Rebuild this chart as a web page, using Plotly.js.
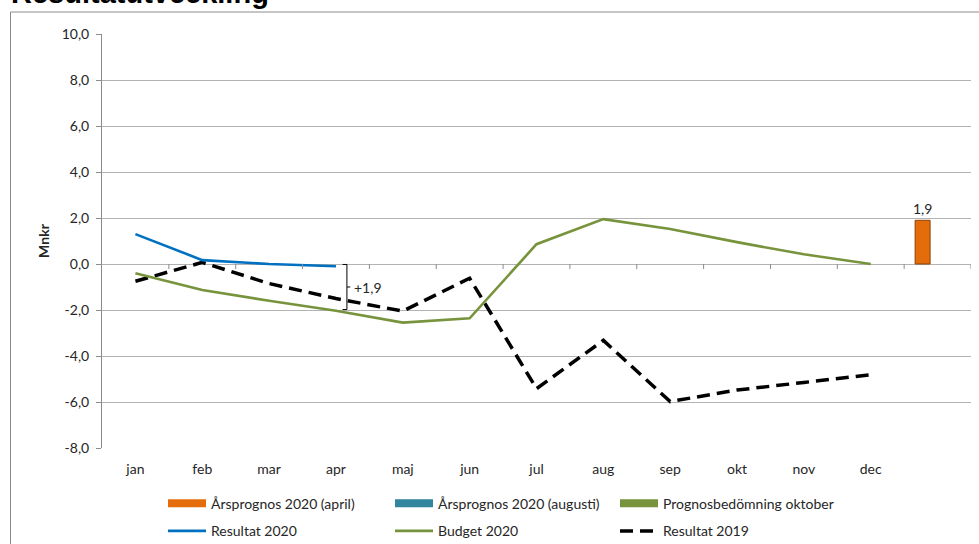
<!DOCTYPE html>
<html><head><meta charset="utf-8">
<script src="https://cdn.plot.ly/plotly-3.0.1.min.js"></script>
<style>html,body{margin:0;padding:0;background:#fff;} #chart{width:979px;height:544px;}</style>
</head><body><div id="chart"></div>
<script>
// ---- data ----
const months = ['jan','feb','mar','apr','maj','jun','jul','aug','sep','okt','nov','dec'];
const resultat2020 = [1.3, 0.17, 0.0, -0.1];
const budget2020 = [-0.4, -1.13, -1.6, -2.03, -2.55, -2.36, 0.86, 1.95, 1.52, 0.95, 0.42, 0.0];
const resultat2019 = [-0.75, 0.07, -0.85, -1.5, -2.05, -0.62, -5.42, -3.32, -5.98, -5.48, -5.15, -4.82];
const arsprognosApril = [1.9];
const gapLabel = '+1,9';
const yTickValues = [-8, -6, -4, -2, 0, 2, 4, 6, 8, 10];
const yTickLabels = ['-8,0', '-6,0', '-4,0', '-2,0', '0,0', '2,0', '4,0', '6,0', '8,0', '10,0'];
const seriesNames = {
  april: 'Årsprognos 2020 (april)',
  augusti: 'Årsprognos 2020 (augusti)',
  oktober: 'Prognosbedömning oktober',
  res2020: 'Resultat 2020',
  budget: 'Budget 2020',
  res2019: 'Resultat 2019'
};

// ---- geometry helpers ----
const W = 979, H = 544, mL = 102, mR = 8, mT = 34, mB = 96;
const pw = W - mL - mR, ph = H - mT - mB;
const px = x => (x - mL) / pw;
const py = y => (H - mB - y) / ph;

const idx = arr => arr.map((_, i) => i);
const barSlot = months.length;

const FONT = 'Lato, "Open Sans", sans-serif';
const FS = 14;
const txtColor = '#262626';
const gridColor = '#b3b3b3';
const axisColor = '#8c8c8c';

const traces = [
  {type: 'bar', x: [barSlot], y: arsprognosApril, name: seriesNames.april, showlegend: false,
   width: 0.224, offset: -0.336,
   marker: {color: '#E46C0A', line: {color: '#8a4208', width: 1}},
   texttemplate: '%{y:.1f}', textposition: 'outside', cliponaxis: false, constraintext: 'none',
   textfont: {family: FONT, size: FS, color: txtColor}, hoverinfo: 'y'},
  {type: 'scatter', mode: 'lines', x: idx(resultat2019), y: resultat2019, name: seriesNames.res2019,
   line: {color: '#000000', width: 3.5, dash: '13px,7px'}, legend: 'legend6'},
  {type: 'scatter', mode: 'lines', x: idx(budget2020), y: budget2020, name: seriesNames.budget,
   line: {color: '#77933C', width: 2.6}, legend: 'legend5'},
  {type: 'scatter', mode: 'lines', x: idx(resultat2020), y: resultat2020, name: seriesNames.res2020,
   line: {color: '#0070C0', width: 2.6}, legend: 'legend4'},
  // legend swatches for the bar series
  {type: 'scatter', mode: 'lines', x: [null], y: [null], name: seriesNames.april,
   line: {color: '#E46C0A', width: 8}, legend: 'legend', hoverinfo: 'skip'},
  {type: 'scatter', mode: 'lines', x: [null], y: [null], name: seriesNames.augusti,
   line: {color: '#31859C', width: 8}, legend: 'legend2', hoverinfo: 'skip'},
  {type: 'scatter', mode: 'lines', x: [null], y: [null], name: seriesNames.oktober,
   line: {color: '#77933C', width: 8}, legend: 'legend3', hoverinfo: 'skip'}
];

const shapes = [];
// outer chart border
shapes.push({type: 'rect', xref: 'paper', yref: 'paper', x0: px(10.5), x1: px(990), y0: py(560), y1: py(12),
  line: {color: '#8c8c8c', width: 1}, fillcolor: 'rgba(0,0,0,0)', layer: 'below'});
// category tick marks on the zero line
for (let k = 1; k <= months.length + 1; k++) {
  shapes.push({type: 'line', xref: 'x', yref: 'y', x0: k - 0.5, x1: k - 0.5, y0: 0, y1: -0.22,
    line: {color: axisColor, width: 1}});
}
// bracket showing the gap in april
const bi = 3;
const bTop = resultat2020[bi] + 0.08, bBot = budget2020[bi] + 0.05;
const bx = bi + 0.164, bxl = bi + 0.099, bxr = bi + 0.214;
const bMid = (bTop + bBot) / 2;
shapes.push({type: 'path', xref: 'x', yref: 'y',
  path: `M ${bxl},${bTop} L ${bx},${bTop} L ${bx},${bBot} L ${bxl},${bBot} M ${bx},${bMid} L ${bxr},${bMid}`,
  line: {color: '#000', width: 1}});

const annotations = [
  {text: 'Resultatutveckling', xref: 'paper', yref: 'paper', x: px(9), y: py(-7.5), xanchor: 'left', yanchor: 'middle',
   showarrow: false, font: {family: '"Liberation Sans", Arial, sans-serif', size: 29, color: '#000', weight: 700}},
  {text: gapLabel, xref: 'x', yref: 'y', x: bxr + 0.02, y: bMid, xanchor: 'left', yanchor: 'middle',
   showarrow: false, font: {family: FONT, size: FS, color: txtColor}}
];

function legendAt(xPix, yPix) {
  return {orientation: 'h', x: px(xPix), y: py(yPix), xanchor: 'left', yanchor: 'middle',
    bgcolor: 'rgba(0,0,0,0)', borderwidth: 0, itemwidth: 38,
    font: {family: FONT, size: FS, color: txtColor}, itemclick: false, itemdoubleclick: false};
}

const layout = {
  width: W, height: H,
  margin: {l: mL, r: mR, t: mT, b: mB, pad: 0, autoexpand: false},
  paper_bgcolor: '#fff', plot_bgcolor: '#fff',
  separators: ',.',
  font: {family: FONT, size: FS, color: txtColor},
  showlegend: true,
  barmode: 'overlay',
  xaxis: {
    type: 'linear', range: [-0.5, months.length + 0.5],
    tickvals: idx(months), ticktext: months,
    showgrid: false, zeroline: false, showline: false,
    ticks: 'outside', ticklen: 8, tickcolor: 'rgba(0,0,0,0)',
    tickfont: {family: FONT, size: FS, color: txtColor}, fixedrange: true
  },
  yaxis: {
    range: [-8, 10], tickvals: yTickValues, ticktext: yTickLabels,
    showgrid: true, gridcolor: gridColor, gridwidth: 1, zeroline: false,
    showline: true, linecolor: axisColor, linewidth: 1,
    ticks: 'outside', ticklen: 5, tickcolor: axisColor, ticklabelstandoff: 4,
    tickfont: {family: FONT, size: FS, color: txtColor},
    title: {text: 'Mnkr', standoff: 8, font: {family: FONT, size: FS, color: txtColor, weight: 700}},
    fixedrange: true
  },
  legend: legendAt(163, 503.7),
  legend2: legendAt(390, 503.7),
  legend3: legendAt(615, 503.7),
  legend4: legendAt(163, 531.3),
  legend5: legendAt(390, 531.3),
  legend6: legendAt(615, 531.3),
  shapes: shapes,
  annotations: annotations
};

Plotly.newPlot('chart', traces, layout, {displayModeBar: false, staticPlot: true});
</script>
</body></html>
